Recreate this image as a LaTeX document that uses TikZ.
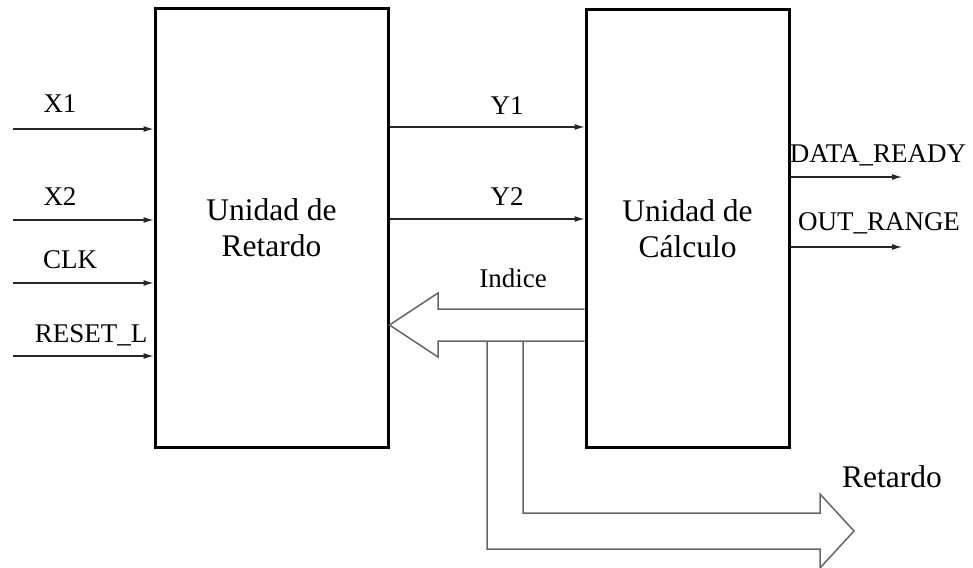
\documentclass[tikz,border=0pt]{standalone}
\usepackage{fontspec}
\setmainfont{Liberation Serif}
\usetikzlibrary{arrows.meta}
\begin{document}
\begin{tikzpicture}[x=1pt,y=-1pt,
  unit/.style={draw=black,line width=3pt,minimum width=233pt,minimum height=438pt,inner sep=0pt,align=center,font=\fontsize{31.5}{36}\selectfont},
  sig/.style={draw=black!85,line width=1.1pt,-{Latex[length=10pt,width=6pt]}},
  lbl/.style={anchor=base,inner sep=0pt,font=\fontsize{27}{30}\selectfont},
  biglbl/.style={anchor=base,inner sep=0pt,font=\fontsize{31.5}{36}\selectfont},
  bus/.style={draw=black!60,line width=1.5pt,line join=miter}]
\useasboundingbox (0,0) rectangle (973,567);
\node[unit] (ret) at (271.5,228) {Unidad de\\Retardo};
\node[unit,minimum width=203pt] (calc) at (687.5,228.5) {Unidad de\\Cálculo};
% inputs
\coordinate (x1) at (13,129);
\coordinate (x2) at (13,220);
\coordinate (clk) at (13,283);
\coordinate (rst) at (13,356);
\draw[sig] (x1) -- (x1 -| ret.west);
\draw[sig] (x2) -- (x2 -| ret.west);
\draw[sig] (clk) -- (clk -| ret.west);
\draw[sig] (rst) -- (rst -| ret.west);
\node[lbl] (lx1) at (60,113) {X1};
\node[lbl] (lx2) at (60,205) {X2};
\node[lbl] (lclk) at (70,268) {CLK};
\node[lbl] (lrst) at (91,342) {RESET\_L};
% Y signals
\coordinate (y1) at (0,127);
\coordinate (y2) at (0,219);
\draw[sig] (ret.east |- y1) -- (calc.west |- y1);
\draw[sig] (ret.east |- y2) -- (calc.west |- y2);
\node[lbl] (ly1) at (507,114) {Y1};
\node[lbl] (ly2) at (507,205) {Y2};
% outputs
\coordinate (dr) at (902,177);
\coordinate (orng) at (902,247);
\draw[sig] (calc.east |- dr) -- (dr);
\draw[sig] (calc.east |- orng) -- (orng);
\node[lbl] (ldr) at (878,162) {DATA\_READY};
\node[lbl] (lor) at (879,230) {OUT\_RANGE};
% Indice bus
\draw[bus] (calc.west |- 0,309) -- (438,309) -- (438,293) -- (ret.east |- 0,325)
  -- (438,357) -- (438,341) -- (calc.west |- 0,341);
\node[lbl] (lind) at (513,287) {Indice};
% Retardo bus
\draw[bus] (487,341) -- (487,549) -- (820,549) -- (820,568) -- (854,531)
  -- (820,494) -- (820,513) -- (523,513) -- (523,341);
\node[biglbl] (lret) at (892,487) {Retardo};
\end{tikzpicture}
\end{document}
